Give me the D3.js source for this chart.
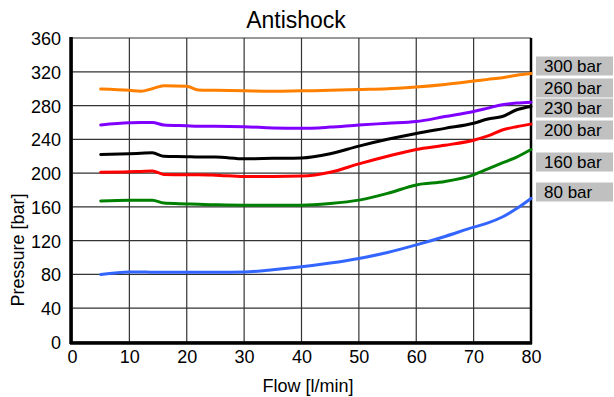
<!DOCTYPE html>
<html>
<head>
<meta charset="utf-8">
<script src="https://cdn.jsdelivr.net/npm/d3@7"></script>
<style>
  body { margin: 0; background: #fff; }
  svg { font-family: "Liberation Sans", Arial, sans-serif; }
</style>
</head>
<body>
<svg id="chart" width="614" height="397"></svg>
<script>
// ---- data ----
var flow = [5, 10, 12, 14, 16, 20, 22, 25, 30, 35, 40, 45, 50, 55, 60, 65, 70, 72.5, 75, 77.5, 80];

var p300 = [299.5, 298, 297, 300, 303.5, 303, 298.5, 298, 297.5, 297, 297.5, 298, 299, 300, 302, 305, 309, 311, 313, 316, 318];
var p260 = [257, 259.5, 260, 260, 257, 256, 255.5, 255.5, 255, 253.5, 253, 254.5, 257, 259, 261, 267, 273, 277, 281, 283, 284];
var p230 = [222, 223, 223.5, 224, 220, 219.5, 219, 219, 217, 217.5, 218, 223, 232, 240, 247, 253, 259, 264, 267, 275, 279];
var p200 = [201, 201.5, 202, 202.5, 198.5, 198, 198, 197.5, 196, 196, 196.5, 201, 211, 220, 228, 233, 239, 244, 251, 255, 258];
var p160 = [167, 168, 168, 168, 164.5, 163.5, 163, 162.5, 162, 162, 162, 164, 168, 176, 186, 190, 198, 205, 212, 219, 228];
var p80  = [80, 83, 83, 82.5, 82.5, 82.5, 82.5, 82.5, 83, 85.5, 89, 93.5, 99, 106, 115, 125, 136, 141, 148, 158, 170];

var seriesNames = ["300 bar", "260 bar", "230 bar", "200 bar", "160 bar", "80 bar"];
var seriesValues = [p300, p260, p230, p200, p160, p80];
var seriesColors = ["#ff8000", "#8000ff", "#000000", "#ff0000", "#008000", "#3366ff"];

var xTicks = [0, 10, 20, 30, 40, 50, 60, 70, 80];
var yTicks = [0, 40, 80, 120, 160, 200, 240, 280, 320, 360];

// ---- layout ----
var plotLeft = 72, plotRight = 531, plotTop = 38, plotBottom = 342;
var labelCenters = [66, 88, 108, 130, 162, 192];   // pixel centres of label boxes

var svg = d3.select("#chart");

var x = d3.scaleLinear().domain([0, 80]).range([plotLeft, plotRight]);
var y = d3.scaleLinear().domain([0, 360]).range([plotBottom, plotTop]);

// grid
svg.append("g").selectAll("line.v")
    .data(xTicks)
    .enter().append("line")
    .attr("x1", function(d) { return x(d); })
    .attr("x2", function(d) { return x(d); })
    .attr("y1", plotTop)
    .attr("y2", plotBottom)
    .attr("stroke", "#333")
    .attr("stroke-width", 1.2);

svg.append("g").selectAll("line.h")
    .data(yTicks)
    .enter().append("line")
    .attr("x1", plotLeft)
    .attr("x2", plotRight)
    .attr("y1", function(d) { return y(d); })
    .attr("y2", function(d) { return y(d); })
    .attr("stroke", "#333")
    .attr("stroke-width", 1.2);

// axes
var xAxis = svg.append("g")
    .attr("transform", "translate(0," + plotBottom + ")")
    .call(d3.axisBottom(x).tickValues(xTicks).tickSize(0).tickPadding(8));
var yAxis = svg.append("g")
    .attr("transform", "translate(" + plotLeft + ",0)")
    .call(d3.axisLeft(y).tickValues(yTicks).tickSize(0).tickPadding(11));

[xAxis, yAxis].forEach(function(a) {
    a.select(".domain").remove();
    a.selectAll("text")
        .attr("font-family", "Liberation Sans, Arial, sans-serif")
        .attr("font-size", 18)
        .attr("fill", "#000");
});
yAxis.selectAll("text").attr("dy", "0.36em");

// frame: thick left, bottom, right
svg.append("line").attr("x1", plotLeft - 1).attr("x2", plotLeft - 1)
    .attr("y1", plotTop - 1).attr("y2", plotBottom + 2)
    .attr("stroke", "#000").attr("stroke-width", 3.5);
svg.append("line").attr("x1", plotLeft - 2).attr("x2", plotRight + 1)
    .attr("y1", plotBottom + 1).attr("y2", plotBottom + 1)
    .attr("stroke", "#000").attr("stroke-width", 3.5);
svg.append("line").attr("x1", plotRight).attr("x2", plotRight)
    .attr("y1", plotTop).attr("y2", plotBottom + 2)
    .attr("stroke", "#000").attr("stroke-width", 2.5);

// lines
var line = d3.line()
    .x(function(d, i) { return x(flow[i]); })
    .y(function(d) { return y(d); })
    .curve(d3.curveMonotoneX);

svg.append("g").selectAll("path")
    .data(seriesValues)
    .enter().append("path")
    .attr("d", function(d) { return line(d); })
    .attr("fill", "none")
    .attr("stroke", function(d, i) { return seriesColors[i]; })
    .attr("stroke-width", 3)
    .attr("stroke-linejoin", "round")
    .attr("stroke-linecap", "round");

// series labels
var lab = svg.append("g").selectAll("g")
    .data(seriesNames)
    .enter().append("g")
    .attr("transform", function(d, i) { return "translate(536," + labelCenters[i] + ")"; });

lab.append("rect")
    .attr("x", 0)
    .attr("y", -9.5)
    .attr("width", 77)
    .attr("height", 19)
    .attr("fill", "#c0c0c0");

lab.append("text")
    .attr("x", 8)
    .attr("y", 0)
    .attr("dy", "0.36em")
    .attr("font-size", 17)
    .attr("fill", "#000")
    .text(function(d) { return d; });

// titles
svg.append("text")
    .attr("x", 296)
    .attr("y", 28)
    .attr("text-anchor", "middle")
    .attr("font-size", 23)
    .text("Antishock");

svg.append("text")
    .attr("x", 308)
    .attr("y", 392)
    .attr("text-anchor", "middle")
    .attr("font-size", 18)
    .text("Flow [l/min]");

svg.append("text")
    .attr("transform", "translate(24,250) rotate(-90)")
    .attr("text-anchor", "middle")
    .attr("font-size", 18)
    .text("Pressure [bar]");
</script>
</body>
</html>
